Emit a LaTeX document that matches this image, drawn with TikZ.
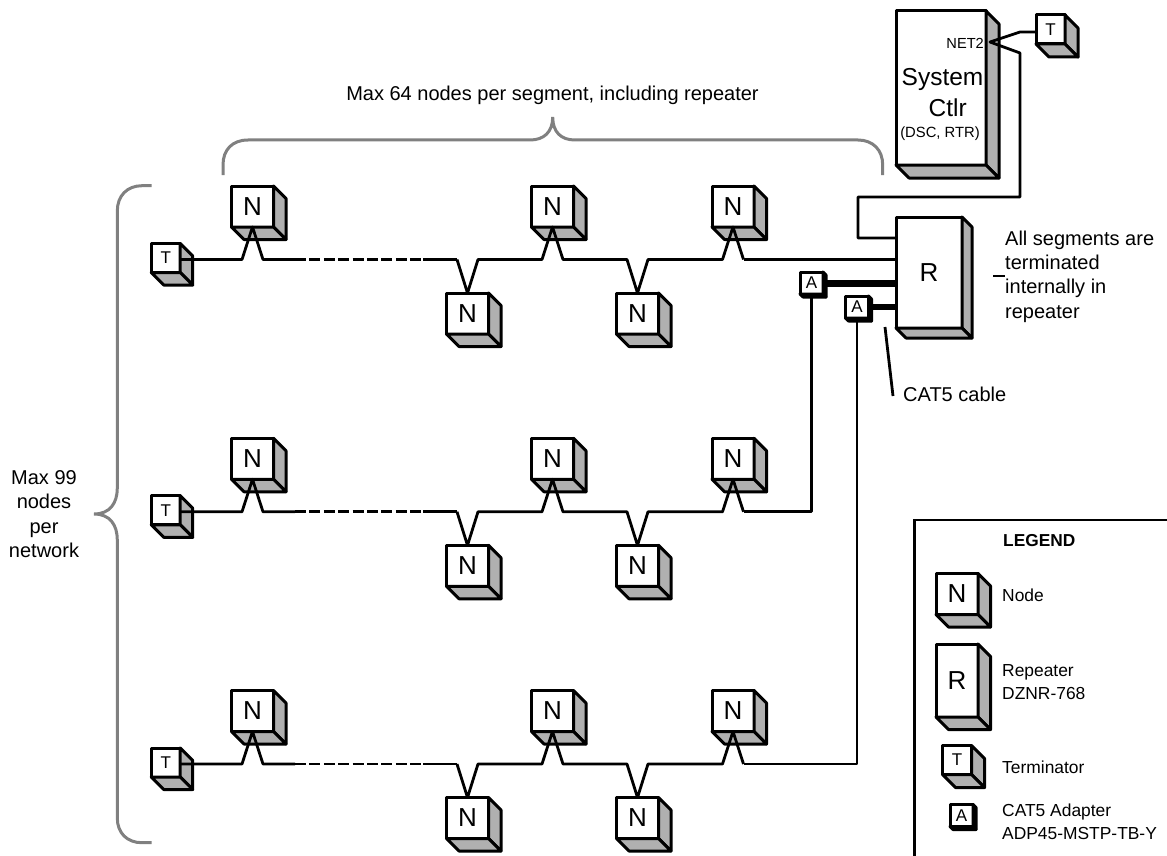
\documentclass[tikz,border=0pt]{standalone}
\usepackage{fontspec}
\setmainfont{Liberation Sans}
\definecolor{sidegray}{HTML}{B0B0B0}
\definecolor{bracegray}{HTML}{808080}
\tikzset{
  front/.style={draw, fill=white, line width=3pt, line join=round, inner sep=0pt, outer sep=0pt},
  nbox/.style={front, minimum width=42pt, minimum height=41pt, font=\fontsize{26}{30}\selectfont},
  rbox/.style={front, minimum width=66pt, minimum height=111pt, font=\fontsize{26}{30}\selectfont},
  sysbox/.style={front, minimum width=90pt, minimum height=154pt},
  tbox/.style={front, minimum width=29pt, minimum height=29pt, font=\fontsize{17}{20}\selectfont},
  abox/.style={front, minimum width=23pt, minimum height=22pt, font=\fontsize{17}{20}\selectfont},
  wire/.style={line width=2.8pt, line join=round},
  dashwire/.style={line width=2.8pt, dash pattern=on 11pt off 3.4pt},
  fatwire/.style={line width=7pt},
  bracket/.style={color=bracegray, line width=3pt},
  note/.style={inner sep=0pt, font=\fontsize{20}{24.4}\selectfont},
  legendtext/.style={inner sep=0pt, anchor=west, align=left, font=\fontsize{17.4}{23}\selectfont},
}
\newcommand{\cubebox}[5]{
  \node [#2] (#1) at (#4) {#5};
  \filldraw [fill=sidegray, line width=3pt, line join=round] (#1.north east) -- ++(#3,#3) -- ([shift={(#3,#3)}]#1.south east) -- (#1.south east) -- cycle;
  \filldraw [fill=sidegray, line width=3pt, line join=round] (#1.south west) -- ++(#3,#3) -- ([shift={(#3,#3)}]#1.south east) -- (#1.south east) -- cycle;
}
\begin{document}
\begin{tikzpicture}[x=1pt,y=-1pt]
    \useasboundingbox (0,0) rectangle (1167,856);

    \draw [bracket] (223,175) -- (223,165) .. controls (223,150) and (232,140) .. (248,140) -- (530,140) .. controls (544,140) and (552.7,132) .. (552.7,117) .. controls (552.7,132) and (561,140) .. (575,140) -- (858,140) .. controls (873,140) and (882.7,150) .. (882.7,165) -- (882.7,175);
    \draw [bracket] (151.7,185.7) -- (142,185.7) .. controls (127,185.7) and (117.3,196) .. (117.3,211) -- (117.3,488) .. controls (117.3,503) and (110,514) .. (94,514) .. controls (110,514) and (117.3,525) .. (117.3,540) -- (117.3,818) .. controls (117.3,833) and (127,842.7) .. (142,842.7) -- (151.7,842.7);
    \node [note] (segnote) at (552.5,95) {Max 64 nodes per segment, including repeater};
    \node [note, align=center] (netnote) at (44,514) {Max 99\\nodes\\per\\network};

    \foreach \r/\dy in {1/0,2/252.3,3/504.5} {
        \cubebox{T\r}{tbox}{12.5}{165.7,258+\dy}{T}
        \cubebox{na\r}{nbox}{12.5}{252.5,206.5+\dy}{N}
        \cubebox{nb\r}{nbox}{12.5}{467.5,313.5+\dy}{N}
        \cubebox{nc\r}{nbox}{12.5}{552.5,206.5+\dy}{N}
        \cubebox{nd\r}{nbox}{12.5}{637.5,313.5+\dy}{N}
        \cubebox{ne\r}{nbox}{12.5}{733,206.5+\dy}{N}
        \draw [wire] ([yshift=-1.5pt]T\r.east) -- ([shift={(-10.5,32.5)}]na\r.south) -- (na\r.south) -- ([shift={(10.5,32.5)}]na\r.south) -- ++(32,0) coordinate (da\r);
        \draw [wire] ([shift={(-10.5,-33.5)}]nb\r.north) coordinate (db\r) -- (nb\r.north) -- ([shift={(10.5,-33.5)}]nb\r.north) -- ([shift={(-10.5,32.5)}]nc\r.south) -- (nc\r.south) -- ([shift={(10.5,32.5)}]nc\r.south) -- ([shift={(-10.5,-33.5)}]nd\r.north) -- (nd\r.north) -- ([shift={(10.5,-33.5)}]nd\r.north) -- ([shift={(-10.5,32.5)}]ne\r.south) -- (ne\r.south) -- ([shift={(10.5,32.5)}]ne\r.south) coordinate (we\r);
        \draw [dashwire] (da\r) -- ++(128,0) coordinate (dc\r);
        \draw [wire] (dc\r) -- (db\r);
    }

    \cubebox{sys}{sysbox}{13}{941,88}{}
    \node [inner sep=0pt, anchor=east, font=\fontsize{14.6}{16}\selectfont] (net) at (984,43) {NET2};
    \node [inner sep=0pt, font=\fontsize{24.5}{28}\selectfont] (systxt) at (942.5,79) {System};
    \node [inner sep=0pt, font=\fontsize{24.5}{28}\selectfont] (ctlr) at (947.7,108) {Ctlr};
    \node [inner sep=0pt, font=\fontsize{14.8}{17}\selectfont] (dsc) at (940,134) {(DSC, RTR)};
    \cubebox{T0}{tbox}{13}{1050.5,29.5}{T}
    \cubebox{R}{rbox}{10}{929,272.5}{R}
    \cubebox{A1}{abox}{3}{811.5,283}{A}
    \cubebox{A2}{abox}{3}{857,307}{A}

    \coordinate (netpt) at (990,42);
    \draw [wire] ([yshift=-2.5pt]T0.west) -- (1020,32) -- (netpt) -- (1020,53) -- (1020,197) -- (858,197) -- (858,238) -- ([yshift=34.5pt]R.west);
    \draw [wire] (we1) -- (we1 -| R.west);
    \draw [wire] (we2) -- (we2 -| A1.south) -- (A1.south);
    \draw [wire] (we3) -- (we3 -| A2.south) -- (A2.south);
    \draw [fatwire] (A1.east) -- (A1.east -| R.west);
    \draw [fatwire, line width=6pt] (A2.east) -- (A2.east -| R.west);

    \node [note, anchor=west, align=left] (segs) at (1005,276.5) {All segments are\\terminated\\internally in\\repeater};
    \coordinate (segtick) at (993,276);
    \draw [wire] (segtick) -- (segtick -| segs.west);
    \node [note, anchor=west] (cat) at (903,394) {CAT5 cable};
    \coordinate (catend) at (885,327);
    \draw [wire] (catend) -- ([shift={(-10,2)}]cat.west);

    \draw [line width=2.8pt] (914.3,856) -- (914.3,520) -- (1167,520);
    \node [legendtext, font=\fontsize{17.3}{23}\selectfont\bfseries] (legend) at (1003,541) {LEGEND};
    \cubebox{ln}{nbox}{12.5}{957,594}{N}
    \cubebox{lr}{nbox, minimum height=73pt}{12.5}{957,680.5}{R}
    \cubebox{lt}{tbox}{13}{957,760}{T}
    \cubebox{la}{abox}{3}{961.5,815.5}{A}
    \node [legendtext] (ntxt) at (1002,595) {Node};
    \node [legendtext] (rtxt) at (1002,682.5) {Repeater\\DZNR-768};
    \node [legendtext] (ttxt) at (1002,767) {Terminator};
    \node [legendtext] (atxt) at (1002,821.5) {CAT5 Adapter\\ADP45-MSTP-TB-Y};
\end{tikzpicture}
\end{document}
